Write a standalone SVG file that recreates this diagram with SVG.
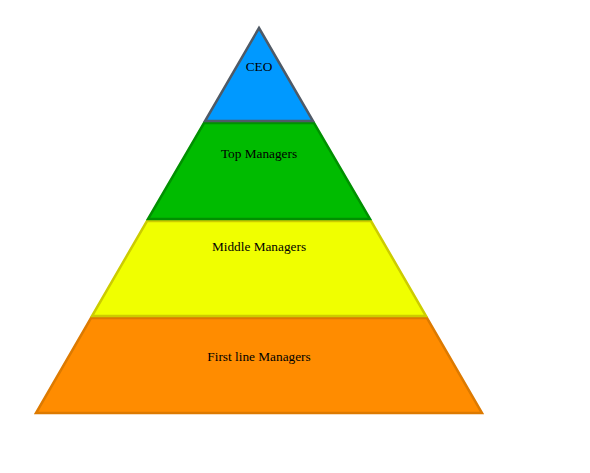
<svg xmlns="http://www.w3.org/2000/svg" width="590" height="473" viewBox="0 0 590 473">
<style>
.lbl{font-family:"Liberation Serif","Times New Roman",serif;font-size:13.3px;fill:#000;text-anchor:middle}
.lv{stroke-width:2.5;stroke-linejoin:miter}
</style>
<rect width="590" height="473" fill="#fff"/>
<g id="first-line">
<polygon class="lv" points="91,318 427,318 482,413 36,413" fill="#ff8c00" stroke="#dd7a00"/>
<text class="lbl" x="259" y="361">First line Managers</text>
</g>
<g id="middle">
<polygon class="lv" points="147,221 371,221 426,316 92,316" fill="#f0ff00" stroke="#cccc00"/>
<text class="lbl" x="259" y="251">Middle Managers</text>
</g>
<g id="top">
<polygon class="lv" points="204,123 314,123 370,219 148,219" fill="#00bb00" stroke="#009000"/>
<text class="lbl" x="259" y="158">Top Managers</text>
</g>
<g id="ceo">
<polygon class="lv" points="259,28 313,121 205,121" fill="#0099ff" stroke="#4f5a66"/>
<text class="lbl" x="259" y="71">CEO</text>
</g>
</svg>
